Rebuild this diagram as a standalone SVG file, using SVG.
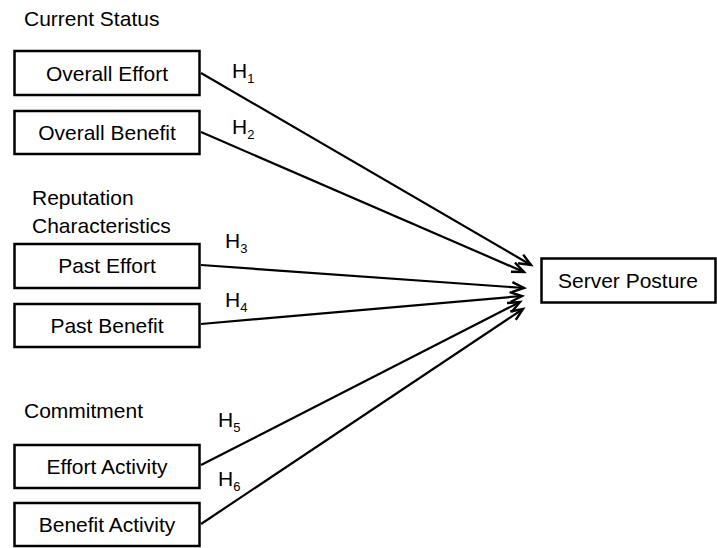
<svg xmlns="http://www.w3.org/2000/svg" width="717" height="548" viewBox="0 0 717 548">
<style>
.box{fill:#fff;stroke:#000;stroke-width:2.5}
text{font-family:"Liberation Sans",Arial,sans-serif;font-size:21px;fill:#000}
.c{text-anchor:middle}
.sub{font-size:13px}
.conn line{stroke:#000;stroke-width:2.2;marker-end:url(#arr)}
</style>
<defs>
<marker id="arr" markerUnits="userSpaceOnUse" markerWidth="16" markerHeight="16" refX="13" refY="6" orient="auto" viewBox="0 0 16 12">
<path d="M1,1 L13,6 L1,11" fill="none" stroke="#000" stroke-width="2.4"/>
</marker>
</defs>
<rect width="717" height="548" fill="#fff"/>
<g id="labels">
<text x="24" y="26">Current Status</text>
<text x="32" y="205">Reputation</text>
<text x="32" y="233">Characteristics</text>
<text x="24" y="418">Commitment</text>
</g>
<g id="conn" class="conn">
<line x1="201" y1="73" x2="531" y2="265"/>
<line x1="201" y1="132" x2="524" y2="272"/>
<line x1="201" y1="265" x2="524" y2="288"/>
<line x1="201" y1="324" x2="522" y2="296"/>
<line x1="201" y1="465" x2="520" y2="302"/>
<line x1="201" y1="524" x2="523" y2="309"/>
</g>
<g id="hlabels">
<text x="232" y="78">H<tspan class="sub" dy="5">1</tspan></text>
<text x="232" y="134">H<tspan class="sub" dy="5">2</tspan></text>
<text x="225" y="248">H<tspan class="sub" dy="5">3</tspan></text>
<text x="225" y="307">H<tspan class="sub" dy="5">4</tspan></text>
<text x="218" y="427">H<tspan class="sub" dy="5">5</tspan></text>
<text x="218" y="486">H<tspan class="sub" dy="5">6</tspan></text>
</g>
<g id="overall-effort"><rect class="box" x="14.5" y="51" width="185" height="44"/><text class="c" x="107" y="81">Overall Effort</text></g>
<g id="overall-benefit"><rect class="box" x="14.5" y="111" width="185" height="43"/><text class="c" x="107" y="140">Overall Benefit</text></g>
<g id="past-effort"><rect class="box" x="14.5" y="244" width="185" height="44"/><text class="c" x="107" y="273">Past Effort</text></g>
<g id="past-benefit"><rect class="box" x="14.5" y="304" width="185" height="43"/><text class="c" x="107" y="333">Past Benefit</text></g>
<g id="effort-activity"><rect class="box" x="14.5" y="445" width="185" height="43"/><text class="c" x="107" y="474">Effort Activity</text></g>
<g id="benefit-activity"><rect class="box" x="14.5" y="503" width="185" height="43"/><text class="c" x="107" y="532">Benefit Activity</text></g>
<g id="server-posture"><rect class="box" x="541.5" y="258.5" width="174" height="44"/><text class="c" x="628" y="288">Server Posture</text></g>
</svg>
